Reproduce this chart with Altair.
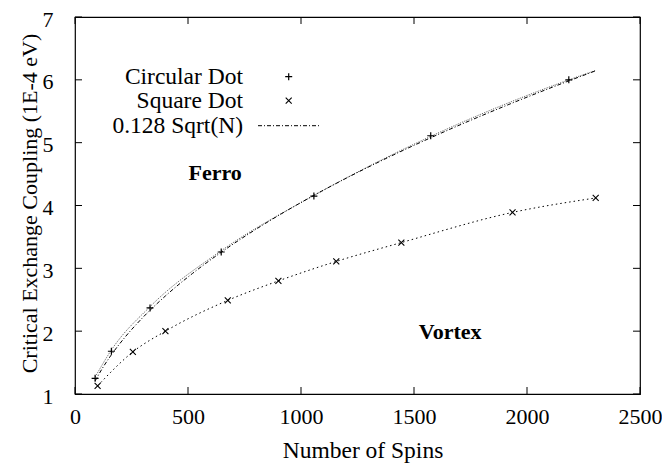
import altair as alt
import pandas as pd

# ---- data ----
circ_N = [89, 161, 332, 647, 1057, 1574, 2185]
circ_J = [1.25, 1.68, 2.37, 3.26, 4.15, 5.11, 6.00]

sq_N = [100, 256, 400, 676, 900, 1156, 1444, 1936, 2304]
sq_J = [1.13, 1.67, 2.00, 2.49, 2.80, 3.11, 3.41, 3.89, 4.12]

# dotted fit through the circular-dot data
circfit_N = [89, 161, 332, 647, 1057, 1574, 2185, 2304]
circfit_J = [1.27, 1.70, 2.39, 3.28, 4.16, 5.10, 6.00, 6.15]

# sample abscissae for the 0.128 Sqrt(N) curve
sqrt_N = [89, 120, 160, 220, 300, 400, 520, 660, 820, 1000, 1200, 1420, 1660, 1920, 2200, 2304]
sqrt_coef = 0.128

x_ticks = [0, 500, 1000, 1500, 2000, 2500]
y_ticks = [1, 2, 3, 4, 5, 6, 7]

ann_text = ["Ferro", "Vortex"]
ann_N = [620, 1660]
ann_J = [4.40, 1.88]

legend_labels = ["Circular Dot", "Square Dot", "0.128 Sqrt(N)"]

# ---- styling ----
W, H = 565, 377
TOP = 9
FONT = "Liberation Serif, Times New Roman, Times, serif"
FS = 22
FS_T = 23.5
PLUS = "M-1,0L1,0M0,-1L0,1"
CROSS = "M-1,-1L1,1M-1,1L1,-1"

xscale = alt.Scale(domain=[0, 2500], nice=False, zero=False)
yscale = alt.Scale(domain=[1, 7], nice=False, zero=False)

xaxis = alt.Axis(values=x_ticks, ticks=False, domain=False, grid=False,
                 labelFlush=False, labelOverlap=False,
                 labelPadding=12, labelFont=FONT, labelFontSize=FS, labelColor="black",
                 labelFontWeight="normal", format="d",
                 title="Number of Spins", titleFont=FONT, titleFontSize=FS_T,
                 titleFontWeight="normal", titleColor="black",
                 titleX=W / 2 + 5, titleY=63, titleBaseline="alphabetic", titleAlign="center")
yaxis = alt.Axis(values=y_ticks, ticks=False, domain=False, grid=False,
                 labelFlush=False, labelOverlap=False, labelOffset=2,
                 labelPadding=22, labelFont=FONT, labelFontSize=22, labelColor="black",
                 labelFontWeight="normal", format="d",
                 title="Critical Exchange Coupling (1E-4 eV)", titleFont=FONT, titleFontSize=22,
                 titleFontWeight="normal", titleColor="black",
                 titleX=-46, titleY=(203 - 8 - TOP), titleAngle=270, titleBaseline="middle",
                 titleAlign="center")

X = lambda f: alt.X(f"{f}:Q", scale=xscale, axis=xaxis)
Y = lambda f: alt.Y(f"{f}:Q", scale=yscale, axis=yaxis)

circ_df = pd.DataFrame({"N": circ_N, "J": circ_J})
sq_df = pd.DataFrame({"N": sq_N, "J": sq_J})
circfit_df = pd.DataFrame({"N": circfit_N, "J": circfit_J})
sqrt_df = pd.DataFrame({"N": sqrt_N})
ann_df = pd.DataFrame({"N": ann_N, "J": ann_J, "t": ann_text})

layers = []

# curves
layers.append(alt.Chart(circfit_df).mark_line(color="#666", strokeWidth=1, strokeDash=[1.2, 1.2],
                                               interpolate="monotone").encode(x=X("N"), y=Y("J")))
layers.append(alt.Chart(sqrt_df).transform_calculate(J=f"{sqrt_coef}*sqrt(datum.N)")
              .mark_line(color="black", strokeWidth=1, strokeDash=[4, 2, 1, 2],
                         interpolate="monotone").encode(x=X("N"), y=Y("J")))
layers.append(alt.Chart(sq_df).mark_line(color="black", strokeWidth=1, strokeDash=[1.5, 3],
                                          interpolate="monotone").encode(x=X("N"), y=Y("J")))
# points
layers.append(alt.Chart(circ_df).mark_point(shape=PLUS, size=49, filled=False, color="black",
                                             strokeWidth=1.2, opacity=1).encode(x=X("N"), y=Y("J")))
layers.append(alt.Chart(sq_df).mark_point(shape=CROSS, size=36, filled=False, color="black",
                                           strokeWidth=1.1, opacity=1).encode(x=X("N"), y=Y("J")))

# annotations
layers.append(alt.Chart(ann_df).mark_text(font=FONT, fontSize=22, fontWeight="bold", color="black",
                                           align="center", baseline="alphabetic")
              .encode(x=X("N"), y=Y("J"), text="t:N"))

# inward ticks (all four sides)
xt = pd.DataFrame({"v": x_ticks})
yt = pd.DataFrame({"v": y_ticks})
TL = 7
layers.append(alt.Chart(xt).mark_rule(color="black", strokeWidth=1)
              .encode(x=X("v"), y=alt.value(H), y2=alt.value(H - TL)))
layers.append(alt.Chart(xt).mark_rule(color="black", strokeWidth=1)
              .encode(x=X("v"), y=alt.value(0), y2=alt.value(TL)))
layers.append(alt.Chart(yt).mark_rule(color="black", strokeWidth=1)
              .encode(y=Y("v"), x=alt.value(0), x2=alt.value(TL)))
layers.append(alt.Chart(yt).mark_rule(color="black", strokeWidth=1)
              .encode(y=Y("v"), x=alt.value(W - TL), x2=alt.value(W)))

# manual legend (gnuplot style: label on the left, sample on the right)
row_y = [76.7 - 8 - TOP, 100.7 - 8 - TOP, 125.7 - 8 - TOP]
lab_x = 168
sym_x = 213.7
for lab, yy in zip(legend_labels, row_y):
    layers.append(alt.Chart(pd.DataFrame({"t": [lab]})).mark_text(
        font=FONT, fontSize=FS_T, color="black", align="right", baseline="middle")
        .encode(text="t:N", x=alt.value(lab_x), y=alt.value(yy)))
layers.append(alt.Chart(pd.DataFrame({"s": [legend_labels[0]]})).mark_point(
    shape=PLUS, size=49, filled=False, color="black", strokeWidth=1.2, opacity=1)
    .encode(x=alt.value(sym_x), y=alt.value(row_y[0])))
layers.append(alt.Chart(pd.DataFrame({"s": [legend_labels[1]]})).mark_point(
    shape=CROSS, size=36, filled=False, color="black", strokeWidth=1.1, opacity=1)
    .encode(x=alt.value(sym_x), y=alt.value(row_y[1])))
layers.append(alt.Chart(pd.DataFrame({"s": [legend_labels[2]]})).mark_rule(
    color="black", strokeWidth=1, strokeDash=[4, 2, 1, 2])
    .encode(x=alt.value(183), x2=alt.value(244), y=alt.value(row_y[2])))

chart = alt.layer(*layers).properties(
    width=W, height=H,
    autosize=alt.AutoSizeParams(type="none"),
    padding={"left": 67, "top": TOP, "right": 22, "bottom": 70},
    background="white",
).configure_view(stroke="black", strokeWidth=1.2)

chart.save("out.html", embed_options={"renderer": "svg", "actions": False})
